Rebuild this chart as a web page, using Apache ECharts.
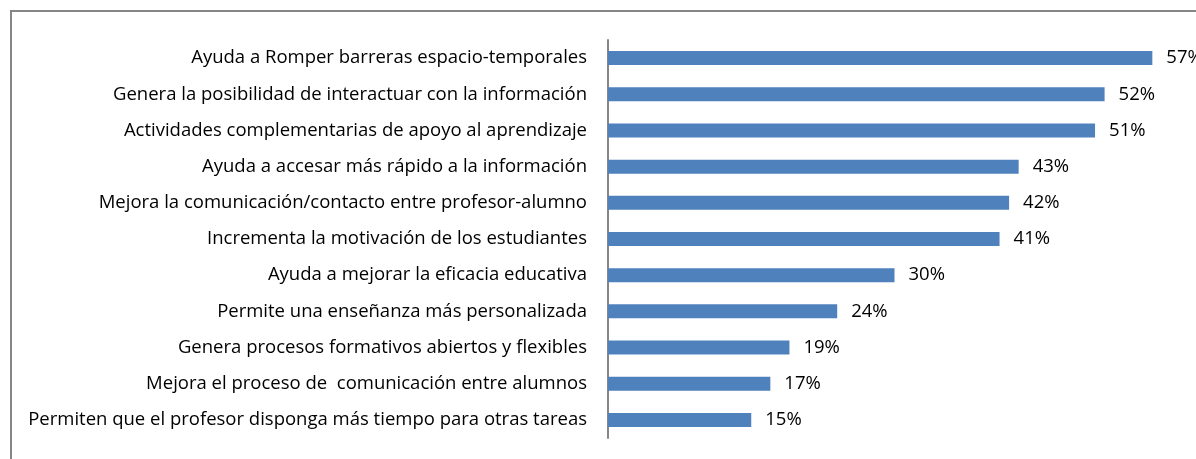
<!DOCTYPE html>
<html><head><meta charset="utf-8">
<script src="https://cdn.jsdelivr.net/npm/echarts@6/dist/echarts.min.js"></script>
<style>html,body{margin:0;padding:0;background:#fff}#c{width:1196px;height:459px}</style>
</head><body><div id="c"></div>
<script>
const categories = [
  "Ayuda a Romper barreras espacio-temporales",
  "Genera la posibilidad de interactuar con la información",
  "Actividades complementarias de apoyo al aprendizaje",
  "Ayuda a accesar más rápido a la información",
  "Mejora la comunicación/contacto entre profesor-alumno",
  "Incrementa la motivación de los estudiantes",
  "Ayuda a mejorar la eficacia educativa",
  "Permite una enseñanza más personalizada",
  "Genera procesos formativos abiertos y flexibles",
  "Mejora el proceso de  comunicación entre alumnos",
  "Permiten que el profesor disponga más tiempo para otras tareas"
];
const values = [57, 52, 51, 43, 42, 41, 30, 24, 19, 17, 15];

const chart = echarts.init(document.getElementById('c'), null, {renderer: 'canvas'});
chart.setOption({
  animation: false,
  backgroundColor: '#fff',
  textStyle: {fontFamily: 'Open Sans'},
  graphic: [{
    type: 'rect', z: -1,
    shape: {x: 11, y: 11, width: 1300, height: 600},
    style: {fill: 'none', stroke: '#868686', lineWidth: 2}
  }],
  grid: {left: 608, top: 40, width: 573, height: 398, containLabel: false},
  xAxis: {type: 'value', min: 0, max: 60, show: false},
  yAxis: {
    type: 'category', data: categories, inverse: true,
    axisLine: {show: true, lineStyle: {color: '#868686', width: 2}},
    axisTick: {show: false},
    axisLabel: {color: '#000', fontSize: 18.5, margin: 21, fontFamily: 'Open Sans'}
  },
  series: [{
    type: 'bar', data: values, barWidth: 14,
    itemStyle: {color: '#4F81BD'},
    label: {show: true, position: 'right', distance: 14, formatter: '{c}%', color: '#000', fontSize: 18.5, fontFamily: 'Open Sans'}
  }]
});
</script></body></html>
